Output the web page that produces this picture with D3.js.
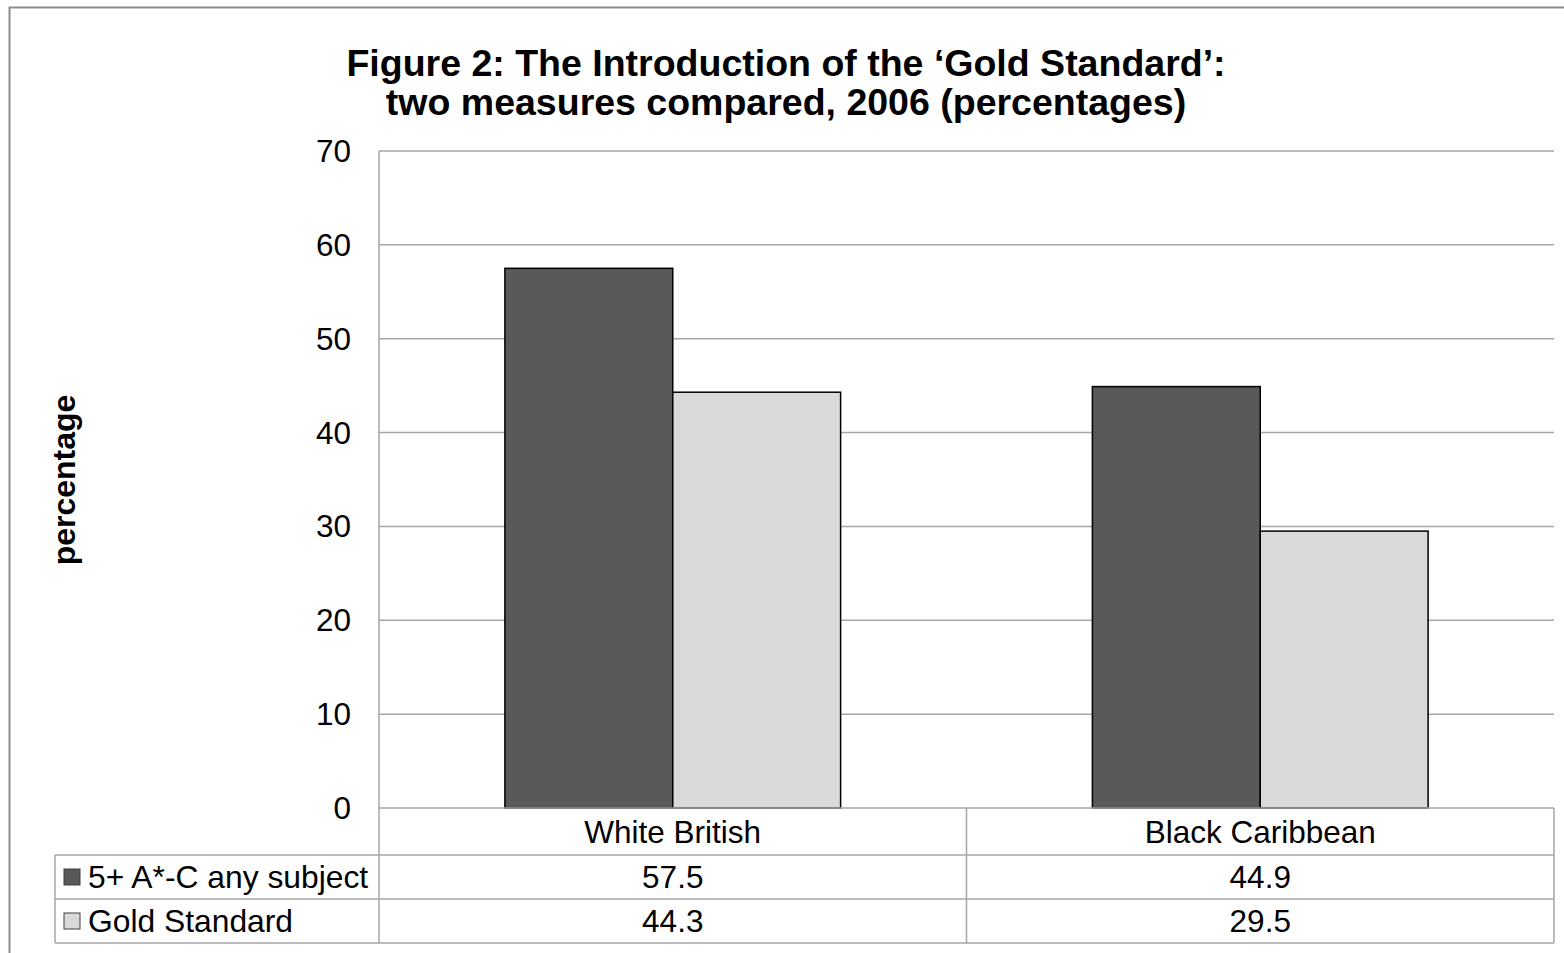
<!DOCTYPE html>
<meta charset="utf-8">
<style>
body { margin: 0; background: #fff; }
text { font-family: "Liberation Sans", Arial, sans-serif; fill: #000; }
.grid line { stroke: #a6a6a6; stroke-width: 1.5px; }
.tbl line { stroke: #a6a6a6; stroke-width: 1.5px; }
.bar { stroke: #000; stroke-width: 1.5px; }
</style>
<body>
<svg width="1564" height="953"></svg>
<script src="https://d3js.org/d3.v7.min.js"></script>
<script>

var categories = ["White British", "Black Caribbean"];
var seriesNames = ["5+ A*-C any subject", "Gold Standard"];
var seriesValues = [[57.5, 44.9], [44.3, 29.5]];
var seriesColors = ["#595959", "#d9d9d9"];
var yTicks = [0, 10, 20, 30, 40, 50, 60, 70];
var titleLines = ["Figure 2: The Introduction of the \u2018Gold Standard\u2019:", "two measures compared, 2006 (percentages)"];

var svg = d3.select("svg");

// outer frame (runs off the right and bottom edge)
svg.append("rect")
    .attr("x", 9.5).attr("y", 7.5)
    .attr("width", 1600).attr("height", 1000)
    .attr("fill", "none")
    .attr("stroke", "#8c8c8c")
    .attr("stroke-width", 2);

var plotLeft = 379, plotRight = 1554, plotTop = 151, plotBottom = 808,
    rowH = [47, 44, 44],
    legendLeft = 55;

var x0 = d3.scaleBand().domain(categories).range([plotLeft, plotRight]);
var x1 = d3.scaleBand().domain(d3.range(seriesNames.length))
    .range([0, x0.bandwidth()]).paddingInner(0).paddingOuter(0.75);
var y = d3.scaleLinear().domain([0, 70]).range([plotBottom, plotTop]);

// title
svg.append("g").selectAll("text")
    .data(titleLines)
  .enter().append("text")
    .attr("x", 786)
    .attr("y", function(d, i) { return 76 + i * 39; })
    .attr("text-anchor", "middle")
    .style("font-size", "37.5px")
    .style("font-weight", "bold")
    .text(function(d) { return d; });

// gridlines
svg.append("g").attr("class", "grid")
  .selectAll("line")
    .data(yTicks.slice(1))
  .enter().append("line")
    .attr("x1", plotLeft).attr("x2", plotRight)
    .attr("y1", function(d) { return y(d); })
    .attr("y2", function(d) { return y(d); });

// y axis labels
svg.append("g").selectAll("text")
    .data(yTicks)
  .enter().append("text")
    .attr("x", 351)
    .attr("y", function(d) { return y(d); })
    .attr("dy", "0.35em")
    .attr("text-anchor", "end")
    .style("font-size", "31.5px")
    .text(function(d) { return d; });

svg.append("text")
    .attr("transform", "translate(75,480) rotate(-90)")
    .attr("text-anchor", "middle")
    .style("font-size", "32px")
    .style("font-weight", "bold")
    .text("percentage");

// bars
var groups = svg.append("g").selectAll("g")
    .data(categories)
  .enter().append("g")
    .attr("transform", function(d) { return "translate(" + x0(d) + ",0)"; });

groups.selectAll("rect")
    .data(function(d, ci) { return seriesValues.map(function(s, si) { return {si: si, v: s[ci]}; }); })
  .enter().append("rect")
    .attr("class", "bar")
    .attr("x", function(d) { return x1(d.si); })
    .attr("width", x1.bandwidth())
    .attr("y", function(d) { return y(d.v); })
    .attr("height", function(d) { return plotBottom - y(d.v); })
    .attr("fill", function(d) { return seriesColors[d.si]; });

// data table
var r0 = plotBottom, r1 = r0 + rowH[0], r2 = r1 + rowH[1], r3 = r2 + rowH[2];
var tbl = svg.append("g").attr("class", "tbl");
var hLines = [[plotLeft, plotRight, r0], [legendLeft, plotRight, r1], [legendLeft, plotRight, r2], [legendLeft, plotRight, r3]];
var vLines = [[legendLeft, r1, r3], [plotLeft, plotTop, r3], [plotRight, r0, r3]];
categories.slice(1).forEach(function(c) { vLines.push([x0(c), r0, r3]); });

tbl.selectAll(".h").data(hLines).enter().append("line")
    .attr("x1", function(d) { return d[0]; }).attr("x2", function(d) { return d[1]; })
    .attr("y1", function(d) { return d[2]; }).attr("y2", function(d) { return d[2]; });
tbl.selectAll(".v").data(vLines).enter().append("line")
    .attr("x1", function(d) { return d[0]; }).attr("x2", function(d) { return d[0]; })
    .attr("y1", function(d) { return d[1]; }).attr("y2", function(d) { return d[2]; });

// category header
svg.append("g").selectAll("text")
    .data(categories)
  .enter().append("text")
    .attr("x", function(d) { return x0(d) + x0.bandwidth() / 2; })
    .attr("y", (r0 + r1) / 2)
    .attr("dy", "0.35em")
    .attr("text-anchor", "middle")
    .style("font-size", "31.5px")
    .text(function(d) { return d; });

var rowMid = [(r1 + r2) / 2, (r2 + r3) / 2];

// value cells
seriesValues.forEach(function(vals, si) {
  svg.append("g").selectAll("text")
      .data(vals)
    .enter().append("text")
      .attr("x", function(d, ci) { return x0(categories[ci]) + x0.bandwidth() / 2; })
      .attr("y", rowMid[si])
      .attr("dy", "0.35em")
      .attr("text-anchor", "middle")
      .style("font-size", "31.5px")
      .text(function(d) { return d.toFixed(1); });
});

// legend keys + names
var leg = svg.append("g").selectAll("g")
    .data(seriesNames)
  .enter().append("g")
    .attr("transform", function(d, i) { return "translate(0," + rowMid[i] + ")"; });

leg.append("rect")
    .attr("x", 64).attr("y", -8)
    .attr("width", 16).attr("height", 16)
    .attr("fill", function(d, i) { return seriesColors[i]; })
    .attr("stroke", "#404040")
    .attr("stroke-width", 1);

leg.append("text")
    .attr("x", 88)
    .attr("dy", "0.35em")
    .style("font-size", "31.8px")
    .text(function(d) { return d; });

</script>
</body>
